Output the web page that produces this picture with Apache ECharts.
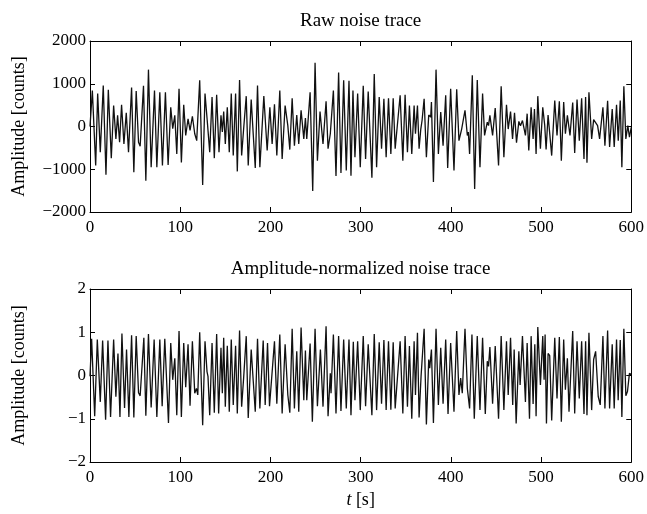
<!DOCTYPE html>
<html>
<head>
<meta charset="utf-8">
<script src="https://cdn.jsdelivr.net/npm/echarts@6/dist/echarts.min.js"></script>
<style>html,body{margin:0;padding:0;background:#fff}#c{width:647px;height:514px}</style>
</head>
<body>
<div id="c"></div>
<script>
// Raw noise trace: times [s] and amplitudes [counts] at the turning points of the trace
const tRaw = [0,2.6,6.3,8.5,11.4,14.7,17.7,20.3,23.6,26.2,28.7,30.6,32.8,35.0,37.6,40.2,42.7,46.1,48.6,51.2,53.8,55.6,59.3,61.9,64.8,67.8,71.5,74.1,77.4,80.3,83.6,86.6,89.5,91.7,94.0,96.2,98.7,101.3,103.9,106.1,108.7,110.9,113.5,116.1,118.3,121.6,124.9,127.5,130.1,132.7,135.3,137.8,140.4,143.0,145.2,146.7,148.2,150.0,152.2,154.4,156.6,158.8,161.4,163.3,165.8,168.1,170.3,173.2,175.4,178.7,181.0,183.2,185.7,188.3,192.7,196.4,199.4,201.9,204.5,207.1,210.4,213.0,216.3,219.3,221.5,224.1,226.6,229.2,231.4,234.0,237.0,238.8,240.3,244.0,246.9,249.5,252.1,255.0,258.3,261.7,263.9,266.4,269.8,272.7,275.6,278.2,281.2,284.1,287.1,289.3,291.5,293.7,296.7,299.6,302.9,305.5,308.4,312.5,315.1,317.7,320.6,323.2,325.8,328.3,330.9,333.5,336.1,338.3,343.8,346.8,349.3,351.9,354.1,356.7,359.3,360.8,363.0,364.8,366.7,368.1,370.4,372.9,375.5,377.7,378.5,380.7,383.6,386.2,388.8,391.4,394.3,396.5,399.8,403.5,406.5,409.0,412.0,415.7,418.3,419.4,420.8,423.8,426.4,429.3,432.3,435.2,437.4,440.4,441.8,443.3,446.3,449.2,452.9,455.8,458.8,461.7,463.6,466.2,468.4,470.6,472.8,475.4,477.2,479.4,482.7,484.6,486.4,489.0,491.2,492.7,494.5,496.4,499.3,501.9,504.1,505.6,507.8,509.6,511.8,515.2,517.7,520.3,522.5,525.1,527.0,529.2,532.1,535.1,537.3,539.9,542.4,545.0,547.6,549.4,550.9,553.1,556.1,558.3,560.5,562.7,564.9,568.6,570.8,573.8,576.0,578.9,581.1,583.7,585.6,587.8,589.6,591.8,594.0,596.2,598.0,600];
const vRaw = [0,840,-910,770,-600,960,-1130,860,-740,490,-290,260,-370,510,-410,320,-600,910,-1070,830,-370,-460,950,-1270,1330,-950,840,-950,800,-910,800,-900,450,-50,260,-640,880,-840,510,-210,180,-90,240,-170,-330,1080,-1370,770,100,-600,690,-740,740,-600,260,-130,350,-410,450,-600,770,-680,770,-1050,1090,-680,-60,710,-910,630,-200,-970,960,-950,710,-560,450,-410,520,-680,840,-760,490,20,-540,660,-450,270,-410,380,-290,200,-290,800,-1510,1490,-800,350,-410,590,-520,-170,840,-1160,1260,-1090,1080,-1030,1070,-1150,840,-720,770,-950,950,-760,820,-1200,1230,-950,690,-520,650,-720,660,-640,660,-520,730,-800,740,-600,490,-640,490,-170,490,-520,-60,140,650,-720,270,220,570,-1300,1330,-640,340,-450,730,-970,880,-1030,870,-330,-60,380,-210,-130,-640,1200,-1460,1090,-950,770,-210,100,20,260,-210,430,-910,940,-720,510,-60,350,-290,320,-380,120,20,140,-210,300,-560,450,-290,410,-640,710,-520,450,20,-540,270,260,-680,610,-210,590,-800,570,-170,260,-210,560,-620,630,-330,660,-760,690,-850,800,-290,160,140,20,-290,450,-450,600,-480,410,-480,510,-330,610,-950,940,-290,20,-250,-20];

// Amplitude-normalized noise trace: times [s] and normalized amplitudes [counts]
const tNorm = [0,1.8,5.2,8.1,11.4,14.0,17.3,19.9,22.8,26.2,28.7,31.0,33.2,35.4,38.3,40.5,43.1,46.1,48.6,51.2,53.8,55.6,59.7,61.9,64.8,67.8,71.1,74.1,77.4,80.0,82.9,87.0,89.5,91.7,94.0,96.2,98.7,101.3,103.9,106.1,108.7,110.9,113.5,116.1,118.0,119.5,121.6,124.9,127.5,129.7,130.8,132.7,135.3,137.8,140.4,142.6,145.2,146.7,148.2,150.0,152.2,154.4,156.6,158.8,161.4,163.3,165.8,168.1,170.3,173.2,175.4,178.7,181.0,183.2,185.7,188.3,192.0,194.2,196.8,199.0,204.5,207.1,210.4,213.0,216.3,219.3,221.5,224.1,226.6,229.2,231.4,234.0,237.0,238.8,240.3,244.0,246.5,249.5,252.1,255.4,258.3,261.7,263.9,266.4,267.2,269.8,272.7,275.6,278.2,281.2,284.1,287.1,289.3,291.9,293.7,296.7,299.6,302.9,305.5,308.4,312.5,315.1,317.7,320.6,323.2,325.8,328.3,330.9,333.5,336.1,338.3,343.8,346.8,349.3,351.9,354.1,356.7,359.3,360.8,363.0,364.8,367.0,370.4,372.9,375.5,376.6,378.5,380.7,383.6,386.2,388.8,391.4,394.3,396.9,399.8,403.5,406.5,409.0,410.9,412.7,415.7,418.3,420.8,423.4,426.0,429.3,432.3,435.2,438.2,440.4,441.8,443.3,446.3,449.2,452.9,455.8,458.8,461.7,463.6,466.2,468.6,470.2,472.4,475.4,476.8,479.4,482.7,484.6,487.2,489.0,491.2,493.1,494.5,496.4,499.3,501.9,503.4,504.5,506.0,507.8,509.6,511.8,515.2,517.7,520.3,522.5,525.1,527.0,529.2,531.0,535.1,537.3,539.9,542.4,545.0,547.6,549.4,550.9,553.1,556.1,558.3,560.5,563.4,565.6,568.6,570.8,573.8,576.0,578.9,581.1,583.7,585.5,587.8,589.6,591.8,594.0,595.8,598.0,600];
const vNorm = [-0.02,0.85,-0.94,0.83,-0.61,0.81,-1.02,0.81,-0.96,0.83,-0.49,0.51,-0.96,0.97,-0.75,0.60,-0.96,0.93,-0.97,0.91,-0.40,-0.47,0.87,-0.93,0.96,-0.74,0.83,-0.96,0.83,-0.71,0.85,-1.10,0.75,-0.10,0.40,-0.92,1.03,-0.96,0.75,-0.27,0.72,-0.70,0.79,-0.41,-0.30,-0.45,1.00,-1.15,0.79,0.09,-0.02,-0.92,0.75,-0.86,0.96,-0.88,0.64,-0.41,0.87,-0.72,0.69,-0.84,0.83,-0.68,0.69,-0.88,1.04,-0.72,-0.06,0.91,-0.98,0.60,-0.14,-0.84,0.85,-0.76,0.81,-0.68,0.75,-0.71,0.79,-0.65,0.95,-0.88,0.72,-0.45,-0.86,1.08,-0.76,0.56,-0.84,1.11,-0.57,0.58,-0.57,0.74,-1.07,1.08,-0.71,0.60,-0.72,1.14,-0.94,0.05,-0.41,0.95,-0.88,0.91,-0.82,0.83,-0.76,0.83,-0.92,0.78,-0.57,0.79,-0.80,0.91,-0.71,0.72,-0.92,0.96,-0.80,0.77,-0.65,0.82,-0.80,0.79,-0.79,0.77,-0.76,0.79,-0.88,0.91,-0.72,0.68,-1.00,0.79,-0.45,0.99,-0.97,-0.02,1.08,-1.13,0.37,0.17,0.60,-1.10,1.08,-0.68,0.64,-0.65,0.83,-0.89,0.75,-0.84,1.03,-0.45,-0.06,-0.41,1.08,-0.30,-0.76,0.95,-1.00,0.91,-0.80,0.87,-0.89,0.33,0.21,0.66,-0.65,0.68,-1.00,0.91,-0.80,0.79,-0.45,0.87,-0.68,0.60,-1.11,0.56,-0.22,0.91,-0.61,0.75,-1.00,0.91,-0.66,0.72,-0.94,1.12,-0.22,0.91,-0.10,0.95,-1.11,0.51,0.46,-1.04,0.87,-0.53,0.89,-1.07,0.83,-0.33,0.40,-0.84,1.03,-0.88,0.79,-0.53,0.79,-0.89,0.79,-0.92,0.99,-0.80,0.37,0.56,-0.49,-0.68,0.91,-0.76,1.04,-0.76,0.72,-0.76,0.83,-0.57,0.82,-0.96,1.08,-0.47,-0.37,0.05,0.02];

const titles = ['Raw noise trace', 'Amplitude-normalized noise trace'];
const yLabel = 'Amplitude [counts]';
const xRange = [0, 600, 100];
const yRangeRaw = [-2000, 2000, 1000];
const yRangeNorm = [-2, 2, 1];

const FONT = "'Liberation Serif', 'Times New Roman', serif";
const minus = v => String(v).replace('-', '\u2212');
const black = '#000';

function xAx(grid, pos, opts) {
  return Object.assign({
    gridIndex: grid, type: 'value', position: pos,
    min: xRange[0], max: xRange[1], interval: xRange[2],
    axisLine: { show: true, onZero: false, lineStyle: { color: black, width: 1 } },
    axisTick: { show: true, inside: true, length: 5, lineStyle: { color: black } },
    axisLabel: { show: false },
    splitLine: { show: false }
  }, opts || {});
}
function yAx(grid, pos, r, opts) {
  return Object.assign({
    gridIndex: grid, type: 'value', position: pos,
    min: r[0], max: r[1], interval: r[2],
    axisLine: { show: true, onZero: false, lineStyle: { color: black, width: 1 } },
    axisTick: { show: true, inside: true, length: 5, lineStyle: { color: black } },
    axisLabel: { show: false },
    splitLine: { show: false }
  }, opts || {});
}
const tickLabel = { show: true, color: black, fontFamily: FONT, fontSize: 17 };
const titleName = (txt) => ({
  name: txt, nameLocation: 'middle', nameGap: 10,
  nameTextStyle: { color: black, fontFamily: FONT, fontSize: 19 }
});
const yName = {
  name: yLabel, nameLocation: 'middle', nameGap: 62, nameRotate: 90,
  nameTextStyle: { color: black, fontFamily: FONT, fontSize: 18 }
};

const chart = echarts.init(document.getElementById('c'), null, { renderer: 'canvas' });
chart.setOption({
  animation: false,
  backgroundColor: '#fff',
  grid: [
    { left: 90, right: 14, top: 41, height: 171 },
    { left: 90, right: 14, top: 289, height: 173 }
  ],
  xAxis: [
    xAx(0, 'bottom', { axisLabel: Object.assign({ margin: 7 }, tickLabel) }),
    xAx(0, 'top', titleName(titles[0])),
    xAx(1, 'bottom', {
      axisLabel: Object.assign({ margin: 7 }, tickLabel),
      name: '{i|t} [s]', nameLocation: 'middle', nameGap: 29,
      nameTextStyle: { color: black, fontFamily: FONT, fontSize: 18,
        rich: { i: { fontStyle: 'italic', fontFamily: FONT, fontSize: 18, color: black } } }
    }),
    xAx(1, 'top', titleName(titles[1]))
  ],
  yAxis: [
    yAx(0, 'left', yRangeRaw, Object.assign({ axisLabel: Object.assign({ margin: 4, formatter: minus }, tickLabel) }, yName)),
    yAx(0, 'right', yRangeRaw),
    yAx(1, 'left', yRangeNorm, Object.assign({ axisLabel: Object.assign({ margin: 4, formatter: minus }, tickLabel) }, yName)),
    yAx(1, 'right', yRangeNorm)
  ],
  series: [
    { type: 'line', xAxisIndex: 0, yAxisIndex: 0, showSymbol: false,
      data: tRaw.map((t, i) => [t, vRaw[i]]),
      lineStyle: { color: '#111', width: 1.3 } },
    { type: 'line', xAxisIndex: 2, yAxisIndex: 2, showSymbol: false,
      data: tNorm.map((t, i) => [t, vNorm[i]]),
      lineStyle: { color: '#111', width: 1.3 } }
  ]
});
</script>
</body>
</html>
